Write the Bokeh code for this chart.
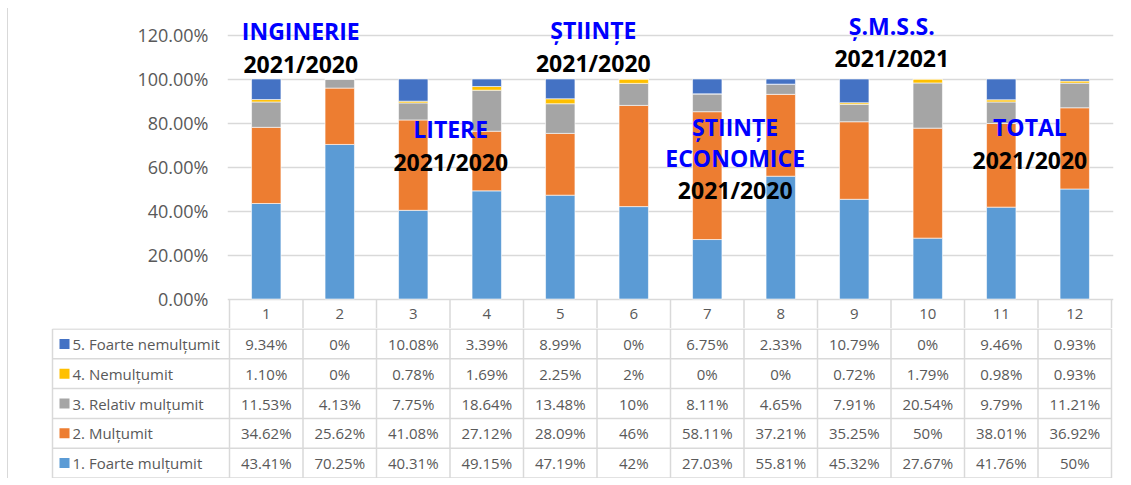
from bokeh.plotting import figure
from bokeh.layouts import column
from bokeh.models import Range1d, FixedTicker, PrintfTickFormatter, ColumnDataSource
from bokeh.core.properties import value
from bokeh.embed import file_html
from bokeh.resources import INLINE

# ---------------- data ----------------
categories = ["1", "2", "3", "4", "5", "6", "7", "8", "9", "10", "11", "12"]
series_names = ["1. Foarte mulțumit", "2. Mulțumit", "3. Relativ mulțumit",
                "4. Nemulțumit", "5. Foarte nemulțumit"]
foarte_multumit = [43.41, 70.25, 40.31, 49.15, 47.19, 42, 27.03, 55.81, 45.32, 27.67, 41.76, 50]
multumit = [34.62, 25.62, 41.08, 27.12, 28.09, 46, 58.11, 37.21, 35.25, 50, 38.01, 36.92]
relativ_multumit = [11.53, 4.13, 7.75, 18.64, 13.48, 10, 8.11, 4.65, 7.91, 20.54, 9.79, 11.21]
nemultumit = [1.10, 0, 0.78, 1.69, 2.25, 2, 0, 0, 0.72, 1.79, 0.98, 0.93]
foarte_nemultumit = [9.34, 0, 10.08, 3.39, 8.99, 0, 6.75, 2.33, 10.79, 0, 9.46, 0.93]
y_ticks = [0, 20, 40, 60, 80, 100, 120]

# group annotations (text, colour role)
ann_texts = ["INGINERIE", "2021/2020", "LITERE", "2021/2020", "ȘTIINȚE", "2021/2020",
             "ȘTIINȚE", "ECONOMICE", "2021/2020", "Ș.M.S.S.", "2021/2021", "TOTAL", "2021/2020"]
ann_is_title = [True, False, True, False, True, False, True, True, False, True, False, True, False]

# ---------------- style / layout ----------------
colors = ["#5B9BD5", "#ED7D31", "#A5A5A5", "#FFC000", "#4472C4"]
grid_c = "#d9d9d9"
txt_c = "#595959"
FONT = "Open Sans"
W = 1114
PX = 73.5          # pixels per category
PPCT = 2.2         # pixels per percent
TOP_H = 320
ZERO_Y = 290.5     # pixel row of 0% inside the top figure
# annotation placement (category units, percent units)
ann_x = [1.47, 1.47, 3.51, 3.51, 5.45, 5.45, 7.38, 7.38, 7.38, 9.51, 9.51, 11.39, 11.39]
ann_y = [121.6, 106.6, 77.5, 62.1, 122.3, 107.3, 78.2, 63.9, 49.6, 124.3, 109.6, 78.4, 63.4]

xs = [i + 1 for i in range(len(categories))]
stack_data = [foarte_multumit, multumit, relativ_multumit, nemultumit, foarte_nemultumit]
keys = ["s1", "s2", "s3", "s4", "s5"]
src = ColumnDataSource(dict(x=xs, **{k: v for k, v in zip(keys, stack_data)}))

# ---------------- top figure: chart + header row ----------------
pad_u = 2 / PX
y_top = ZERO_Y / PPCT
y_bot = -(TOP_H - ZERO_Y) / PPCT
p1 = figure(width=W, height=TOP_H,
            x_range=Range1d(0.5 - pad_u, 12.5 + pad_u),
            y_range=Range1d(y_bot, y_top),
            x_axis_type=None, toolbar_location=None, output_backend="svg",
            min_border_left=219, min_border_right=W - 219 - int(round(12 * PX + 4)),
            min_border_top=0, min_border_bottom=0, frame_align=False)
p1.outline_line_color = None
p1.xgrid.visible = False
p1.ygrid.ticker = FixedTicker(ticks=y_ticks)
p1.ygrid.grid_line_color = grid_c
p1.ygrid.grid_line_width = 1.5
ya = p1.yaxis[0]
ya.ticker = FixedTicker(ticks=y_ticks)
ya.formatter = PrintfTickFormatter(format="%.2f%%")
ya.axis_line_color = None
ya.major_tick_line_color = None
ya.minor_tick_line_color = None
ya.major_tick_out = 0
ya.major_tick_in = 0
ya.major_label_standoff = 19
ya.major_label_text_font = FONT
ya.major_label_text_font_size = "18px"
ya.major_label_text_color = txt_c

p1.vbar_stack(keys, x="x", width=0.4, source=src, fill_color=colors,
              line_color="white", line_width=0.6)

# header row of table
bx = [i + 0.5 for i in range(len(categories) + 1)]
p1.segment(x0=bx, x1=bx, y0=[y_bot] * len(bx), y1=[0] * len(bx),
           line_color=grid_c, line_width=1.5)
p1.text(x=xs, y=[y_bot / 2] * len(xs), text=categories, text_align="center",
        text_baseline="middle", text_font=value(FONT), text_font_size="15px",
        text_color=txt_c)

# group annotations
p1.text(x=ann_x, y=ann_y, text=ann_texts,
        text_color=["#0000FF" if t else "#000000" for t in ann_is_title],
        text_align="center", text_baseline="alphabetic",
        text_font=value(FONT), text_font_style="bold", text_font_size="23px")

# ---------------- bottom figure: data table ----------------
BOT_H = 150
rows = len(series_names)
rpx = (BOT_H - 1) / rows
pd_ = 0.5 / rpx
left_b = 40
right_b = 8
x0 = 0.5 - (219 + 2 - left_b) / PX
x1 = x0 + (W - left_b - right_b) / PX
leg_left = 0.5 - (221 - 44) / PX
p2 = figure(width=W, height=BOT_H,
            x_range=Range1d(x0, x1), y_range=Range1d(rows + pd_, -pd_),
            x_axis_type=None, y_axis_type=None, toolbar_location=None,
            output_backend="svg", min_border_left=left_b, min_border_right=right_b,
            min_border_top=0, min_border_bottom=0, frame_align=False)
p2.outline_line_color = None
p2.grid.visible = False

hy = list(range(rows + 1))
p2.segment(x0=[leg_left] * len(hy), x1=[12.5] * len(hy), y0=hy, y1=hy,
           line_color=grid_c, line_width=1.5)
vx = [leg_left] + bx
p2.segment(x0=vx, x1=vx, y0=[0] * len(vx), y1=[rows] * len(vx),
           line_color=grid_c, line_width=1.5)


def fmt(v):
    return f"{int(v)}%" if float(v).is_integer() else f"{v:.2f}%"


cx, cy, ct = [], [], []
for r, si in enumerate(reversed(range(rows))):
    for i, v in enumerate(stack_data[si]):
        cx.append(xs[i]); cy.append(r + 0.5); ct.append(fmt(v))
p2.text(x=cx, y=cy, text=ct, text_align="center", text_baseline="middle",
        text_font=value(FONT), text_font_size="15px", text_color=txt_c)

rev_names = list(reversed(series_names))
rev_colors = list(reversed(colors))
ry = [r + 0.5 for r in range(rows)]
sq_x = 0.5 - (221 - 56) / PX
lab_x = 0.5 - (221 - 64) / PX
p2.scatter(x=[sq_x] * rows, y=ry, marker="square", size=10, fill_color=rev_colors,
           line_color=None)
p2.text(x=[lab_x] * rows, y=ry, text=rev_names, text_align="left",
        text_baseline="middle", text_font=value(FONT), text_font_size="15px",
        text_color=txt_c)

layout = column(p1, p2, styles={"margin-left": "7px", "margin-top": "8px",
                                "border-left": "1px solid #d9d9d9"})
open("out.html", "w").write(file_html(layout, INLINE))
